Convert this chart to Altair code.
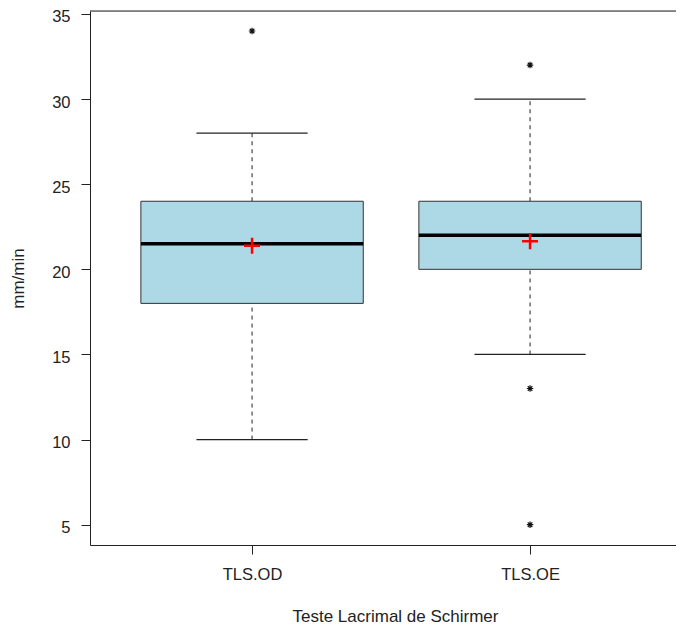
import altair as alt
import pandas as pd

groups = ["TLS.OD", "TLS.OE"]
q1 = [18, 20]
median = [21.5, 22]
q3 = [24, 24]
lower = [10, 15]
upper = [28, 30]
means = [21.38, 21.65]

outlier_group = ["TLS.OD", "TLS.OE", "TLS.OE", "TLS.OE"]
outlier_value = [34, 32, 13, 5]

y_ticks = [5, 10, 15, 20, 25, 30, 35]

pos = {g: i + 1 for i, g in enumerate(groups)}
stats = pd.DataFrame({
    "group": groups, "pos": [pos[g] for g in groups],
    "q1": q1, "median": median, "q3": q3,
    "lower": lower, "upper": upper, "mean": means,
})
outs = pd.DataFrame({
    "group": outlier_group, "pos": [pos[g] for g in outlier_group],
    "value": outlier_value,
})

W, H = 586, 534
FONT = "Liberation Sans"

xscale = alt.Scale(domain=[0.417, 2.525], nice=False, zero=False)
yscale = alt.Scale(domain=[3.807, 35.176], nice=False, zero=False)

xaxis = alt.Axis(
    values=[1, 2],
    labelExpr="datum.value == 1 ? 'TLS.OD' : 'TLS.OE'",
    tickSize=9, tickColor="#222", domainColor="#222",
    labelFontSize=16.5, labelFont=FONT, labelColor="#222",
    labelBaseline="middle", labelPadding=20,
    grid=False, title="Teste Lacrimal de Schirmer",
    titleFontSize=17, titleFont=FONT, titleFontWeight="normal",
    titleColor="#222", titleX=305, titleY=76, titleBaseline="alphabetic",
    titleAnchor="start", titleAlign="center",
)
yaxis = alt.Axis(
    values=y_ticks, tickSize=9, tickColor="#222", domainColor="#222",
    labelFontSize=16.5, labelFont=FONT, labelColor="#222", labelPadding=11,
    labelOffset=3,
    grid=False, title="mm/min",
    titleFontSize=17, titleFont=FONT, titleFontWeight="normal",
    titleColor="#222", titleX=-67, titleY=H / 2, titleAngle=-90,
    titleBaseline="alphabetic", titleAlign="center", titleAnchor="start",
)

base = alt.Chart(stats).transform_calculate(
    xl="datum.pos - 0.4", xr="datum.pos + 0.4",
    cl="datum.pos - 0.2", cr="datum.pos + 0.2",
)

whisk_up = base.mark_rule(color="#222", strokeWidth=1, strokeDash=[4, 4]).encode(
    x=alt.X("pos:Q", scale=xscale, axis=xaxis),
    y=alt.Y("q3:Q", scale=yscale, axis=yaxis),
    y2="upper:Q",
)
whisk_lo = base.mark_rule(color="#222", strokeWidth=1, strokeDash=[4, 4]).encode(
    x="pos:Q", y="lower:Q", y2="q1:Q",
)
cap_up = base.mark_rule(color="#222", strokeWidth=1.2).encode(
    x="cl:Q", x2="cr:Q", y="upper:Q",
)
cap_lo = base.mark_rule(color="#222", strokeWidth=1.2).encode(
    x="cl:Q", x2="cr:Q", y="lower:Q",
)
box = base.mark_rect(fill="#ADD8E6", stroke="#333", strokeWidth=1).encode(
    x="xl:Q", x2="xr:Q", y="q1:Q", y2="q3:Q",
)
med = base.mark_rule(color="black", strokeWidth=3.5).encode(
    x="xl:Q", x2="xr:Q", y="median:Q",
)
mean_pt = base.mark_point(
    shape="M-1,0L1,0M0,-1L0,1", size=256, color="red",
    strokeWidth=2.5, filled=False, opacity=1,
).encode(x="pos:Q", y="mean:Q")

out_pt = alt.Chart(outs).mark_point(
    shape="M-1,0L1,0M0,-1L0,1M-0.7,-0.7L0.7,0.7M-0.7,0.7L0.7,-0.7",
    size=42, color="#111", strokeWidth=1.2, filled=False, opacity=1,
).encode(x="pos:Q", y="value:Q")

top_line = alt.Chart(pd.DataFrame({"a": [0]})).mark_rule(
    color="#222", strokeWidth=1
).encode(x=alt.value(0), x2=alt.value(W), y=alt.value(0))

chart = alt.layer(
    whisk_up, whisk_lo, cap_up, cap_lo, box, med, mean_pt, out_pt, top_line
).properties(
    width=W, height=H,
    autosize=alt.AutoSizeParams(type="none"),
    padding={"left": 82, "top": 3, "right": 0, "bottom": 79},
).configure_view(stroke=None).configure(background="white")

chart.save("out.html", embed_options={"renderer": "svg", "actions": False})
